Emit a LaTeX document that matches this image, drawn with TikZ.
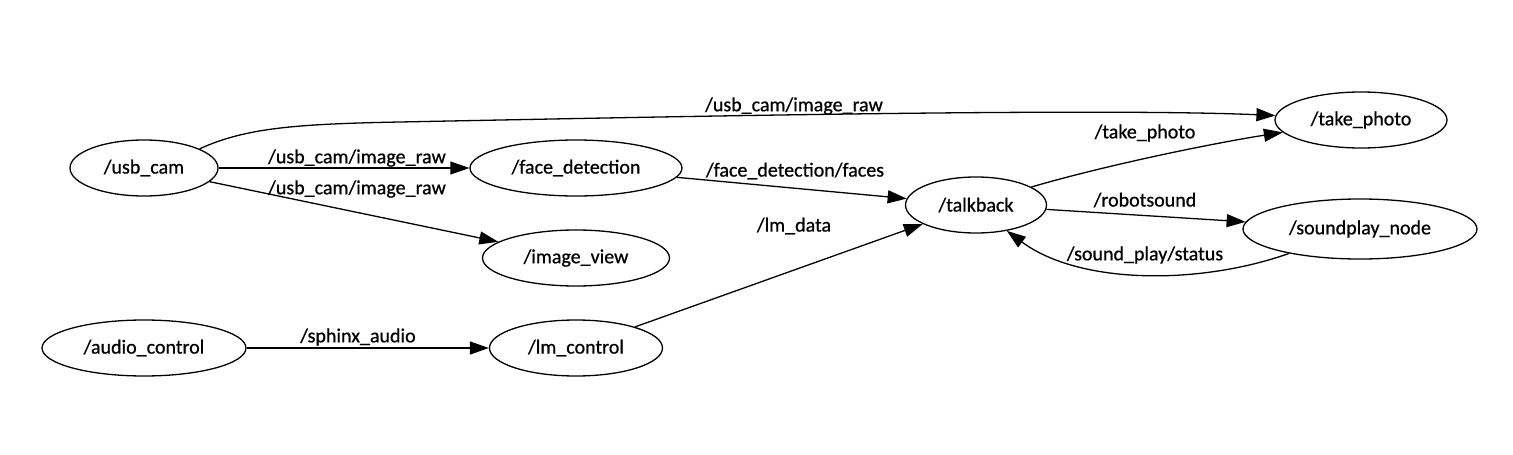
\documentclass[tikz,border=0pt]{standalone}
\usepackage{fontspec}
\setmainfont{Carlito}
\newfontfamily\labfont{Carlito}[FakeBold=0.7]
\usetikzlibrary{shapes.geometric,arrows.meta}
\begin{document}
\begin{tikzpicture}[x=1pt,y=-1pt,
  nd/.style={ellipse,draw,line width=1.3pt,inner sep=0pt,minimum height=56pt,font=\labfont\fontsize{20}{24}\selectfont},
  lbl/.style={inner sep=0pt,font=\labfont\fontsize{20}{24}\selectfont},
  arr/.style={line width=1.3pt,-{Triangle[length=19pt,width=13pt]}}]
\useasboundingbox (0,0) rectangle (1513,455);
\node[nd,minimum width=148pt] (usb) at (144,168) {/usb\_cam};
\node[nd,minimum width=212pt] (fd) at (576,168) {/face\_detection};
\node[nd,minimum width=187pt] (iv) at (576,258) {/image\_view};
\node[nd,minimum width=172pt] (tp) at (1361,120) {/take\_photo};
\node[nd,minimum width=141pt] (tb) at (976,205) {/talkback};
\node[nd,minimum width=234pt,minimum height=60pt] (sp) at (1360,229) {/soundplay\_node};
\node[nd,minimum width=204pt] (ac) at (144,348) {/audio\_control};
\node[nd,minimum width=173pt] (lm) at (576,348) {/lm\_control};

\node[lbl] (l1) at (794,106) {/usb\_cam/image\_raw};
\node[lbl] (l2) at (357,158) {/usb\_cam/image\_raw};
\node[lbl] (l3) at (357,189) {/usb\_cam/image\_raw};
\node[lbl] (l4) at (795,171) {/face\_detection/faces};
\node[lbl] (l5) at (794,226) {/lm\_data};
\node[lbl] (l6) at (1145,133) {/take\_photo};
\node[lbl] (l7) at (1145,200) {/robotsound};
\node[lbl] (l8) at (1145,255) {/sound\_play/status};
\node[lbl] (l9) at (358,337) {/sphinx\_audio};

\draw[arr] (usb.19) .. controls (245,128) and (295,124) .. (400,122)
  .. controls (700,116) and (1100,108) .. (tp.177);
\draw[arr] (usb) -- (fd);
\draw[arr] (usb) -- (iv);
\draw[arr] (fd) -- (tb);
\draw[arr] (lm) -- (tb);
\draw[arr] (tb.18) .. controls (1110,164) and (1220,142) .. (tp.189);
\draw[arr] (tb) -- (sp);
\draw[arr] (sp.199) .. controls (1200,285) and (1080,285) .. (tb.-40);
\draw[arr] (ac) -- (lm);
\end{tikzpicture}
\end{document}
